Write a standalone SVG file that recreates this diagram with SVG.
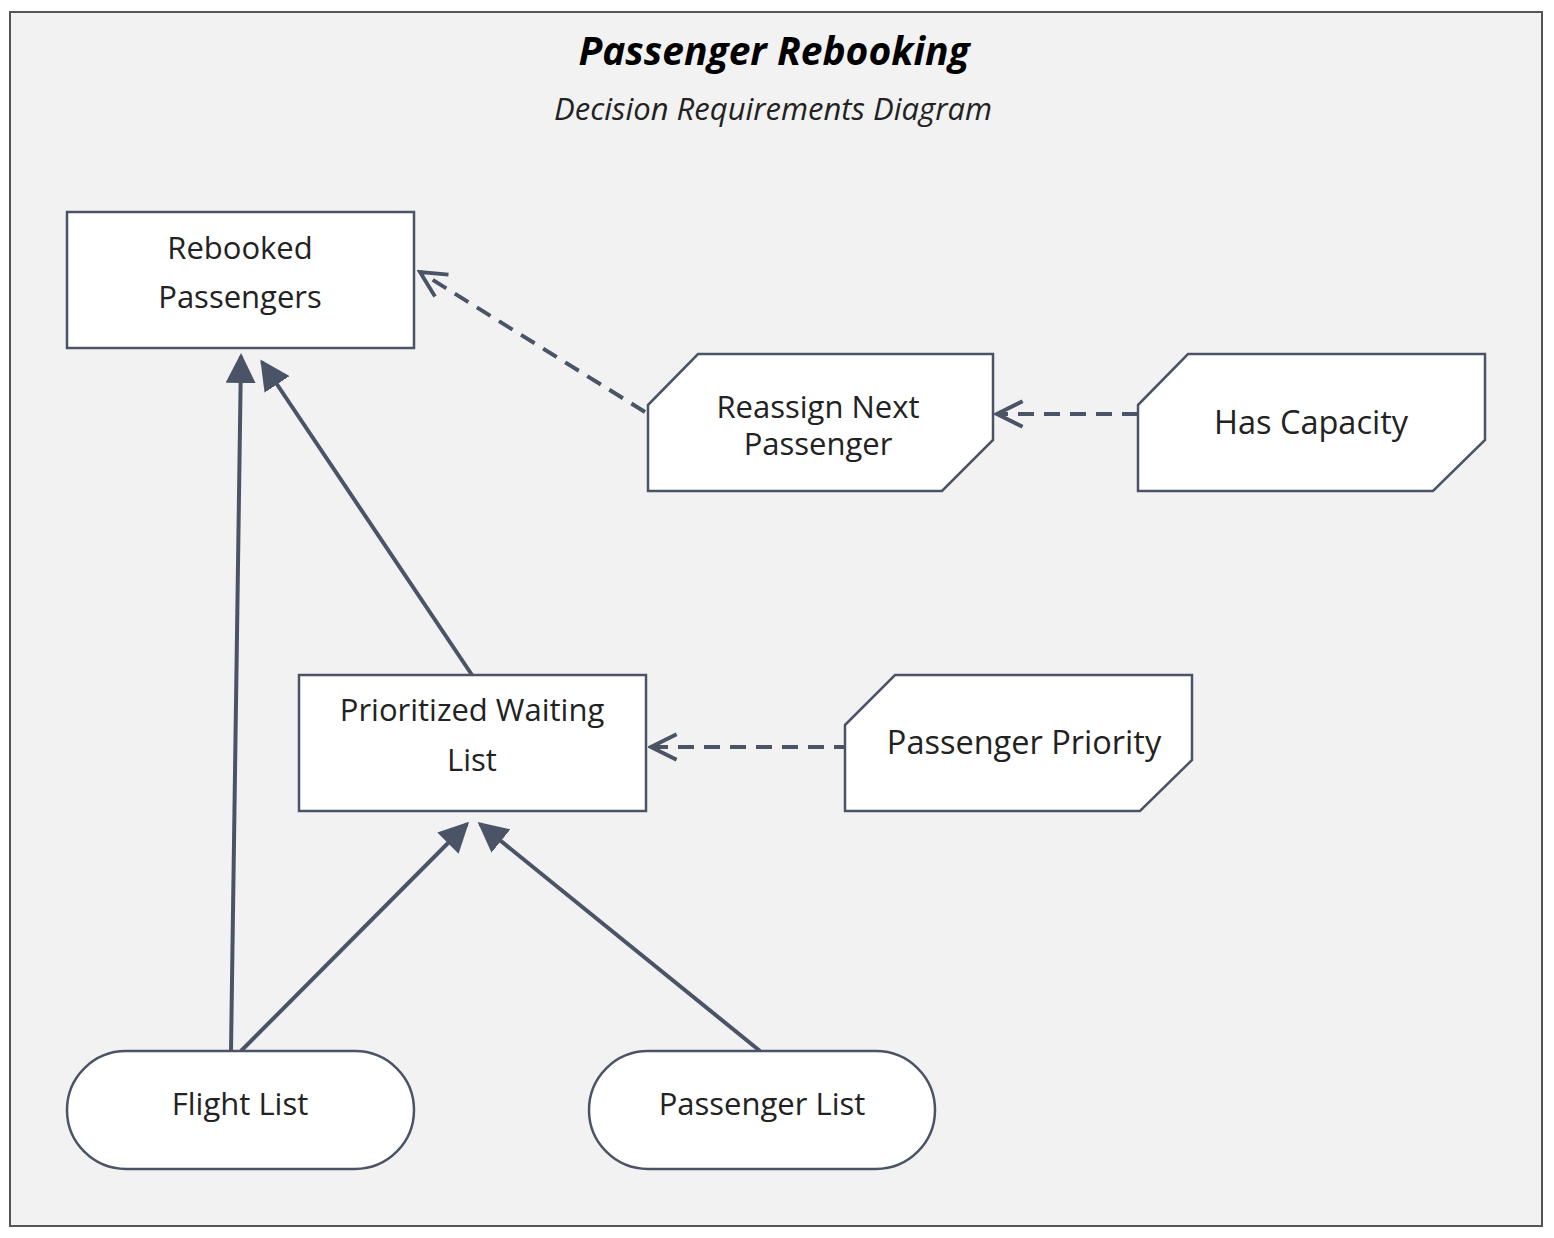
<svg xmlns="http://www.w3.org/2000/svg" width="1554" height="1238" viewBox="0 0 1554 1238">
<defs>
<style>
.n{fill:#fff;stroke:#4a5466;stroke-width:2.5}
.t{font-family:"Open Sans","Liberation Sans",sans-serif;font-size:31px;fill:#222;text-anchor:middle}
.k{font-size:32.5px}
.s{stroke:#4a5466;stroke-width:4;fill:none}
.d{stroke:#4a5466;stroke-width:4;fill:none;stroke-dasharray:16 10}
</style>
<marker id="f" viewBox="0 0 10 10" refX="9" refY="5" markerWidth="7.5" markerHeight="7.5" orient="auto" markerUnits="strokeWidth"><path d="M0,0 L10,5 L0,10 z" fill="#4a5466"/></marker>
<marker id="o" viewBox="0 0 10 10" refX="9" refY="5" markerWidth="8" markerHeight="8" orient="auto" markerUnits="strokeWidth"><path d="M1,1 L9,5 L1,9" fill="none" stroke="#4a5466" stroke-width="1.2"/></marker>
</defs>
<rect x="10" y="12" width="1532" height="1214" fill="#f2f2f2" stroke="#555" stroke-width="2"/>
<text x="774" y="65" class="t" style="font-weight:bold;font-style:italic;font-size:39px;fill:#000">Passenger Rebooking</text>
<text x="773" y="120" class="t" style="font-style:italic;font-size:31px;fill:#222">Decision Requirements Diagram</text>
<g id="connectors">
<line class="s" x1="231" y1="1051" x2="241" y2="356" marker-end="url(#f)"/>
<line class="s" x1="472" y1="675" x2="262" y2="362" marker-end="url(#f)"/>
<line class="s" x1="241" y1="1051" x2="467" y2="824" marker-end="url(#f)"/>
<line class="s" x1="760" y1="1051" x2="480" y2="824" marker-end="url(#f)"/>
<line class="d" x1="645" y1="412" x2="420" y2="272" marker-end="url(#o)"/>
<line class="d" x1="1138" y1="414" x2="997" y2="414" marker-end="url(#o)"/>
<line class="d" x1="850" y1="747" x2="651" y2="747" marker-end="url(#o)"/>
</g>
<g id="rebooked"><rect class="n" x="67" y="212" width="347" height="136"/><text class="t" x="240" y="259">Rebooked</text><text class="t" x="240" y="308">Passengers</text></g>
<g id="reassign"><polygon class="n" points="648,405 698,354 993,354 993,440 942,491 648,491"/><text class="t" x="818" y="418">Reassign Next</text><text class="t" x="818" y="455">Passenger</text></g>
<g id="capacity"><polygon class="n" points="1138,405 1188,354 1485,354 1485,440 1433,491 1138,491"/><text class="t k" x="1311" y="434">Has Capacity</text></g>
<g id="waiting"><rect class="n" x="299" y="675" width="347" height="136"/><text class="t" x="472" y="721">Prioritized Waiting</text><text class="t" x="472" y="771">List</text></g>
<g id="priority"><polygon class="n" points="845,725 895,675 1192,675 1192,760 1140,811 845,811"/><text class="t k" x="1024" y="754">Passenger Priority</text></g>
<g id="flight"><rect class="n" x="67" y="1051" width="347" height="118" rx="59"/><text class="t" x="240" y="1115">Flight List</text></g>
<g id="passengers"><rect class="n" x="589" y="1051" width="346" height="118" rx="59"/><text class="t" x="762" y="1115">Passenger List</text></g>
</svg>
